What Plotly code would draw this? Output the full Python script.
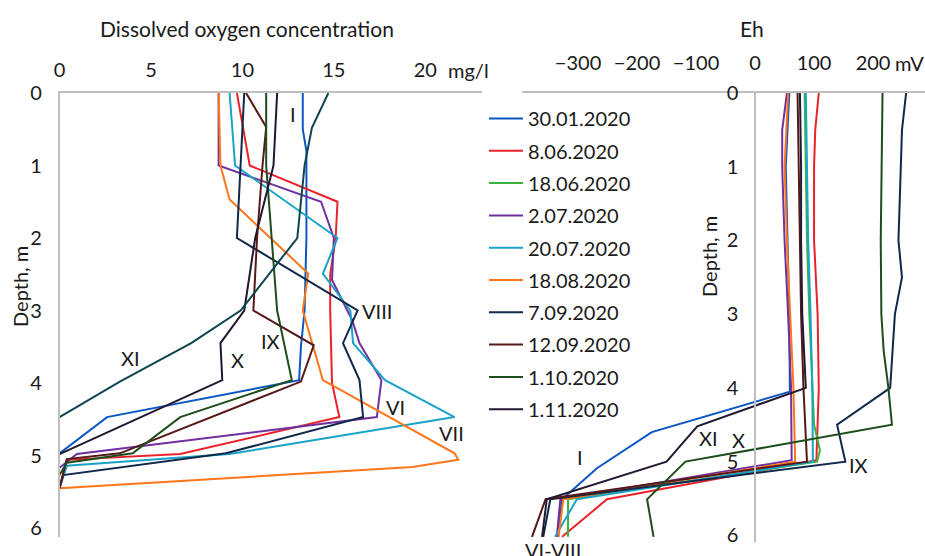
import plotly.graph_objects as go

W, H = 925, 556
FONT = "Lato"

# ---------------- Dissolved oxygen (mg/l) ----------------
do_depth_3001 = [0, 0.5, 0.8, 1.0, 2.0, 3.0, 3.5, 3.96, 4.47, 4.97]
do_val_3001 = [13.3, 13.3, 13.5, 13.5, 13.5, 13.4, 13.2, 13.1, 2.6, 0.0]

do_depth_0806 = [0, 1.0, 1.5, 2.0, 2.5, 3.0, 4.0, 4.47, 4.98, 5.06, 5.45]
do_val_0806 = [9.7, 10.4, 15.2, 15.1, 14.8, 14.8, 14.9, 15.3, 6.6, 0.4, 0.0]

do_depth_0207 = [0, 1.0, 1.5, 2.0, 2.58, 3.13, 3.45, 3.96, 4.47, 4.98, 5.17]
do_val_0207 = [8.7, 8.7, 14.3, 15.0, 14.9, 16.0, 16.4, 17.6, 17.35, 0.95, 0.0]

do_depth_2007 = [0, 1.0, 2.0, 2.49, 3.0, 3.45, 3.96, 4.47, 4.98, 5.14, 5.45]
do_val_2007 = [9.3, 9.6, 15.2, 14.4, 15.9, 16.05, 17.8, 21.6, 9.3, 0.4, 0.0]

do_depth_1808 = [0, 1.0, 1.47, 2.49, 3.0, 3.96, 4.97, 5.06, 5.16, 5.45]
do_val_1808 = [8.7, 8.8, 9.3, 13.6, 13.3, 14.4, 21.6, 21.8, 19.3, 0.0]

do_depth_0709 = [0, 1.0, 2.0, 3.0, 3.45, 3.96, 4.47, 4.97, 5.27, 5.45]
do_val_0709 = [10.1, 9.9, 9.7, 16.3, 15.5, 16.4, 16.6, 9.1, 0.2, 0.0]

do_depth_1209 = [0, 0.47, 1.0, 2.0, 3.0, 3.48, 3.98, 4.97, 5.05, 5.45]
do_val_1209 = [10.2, 11.3, 11.1, 10.8, 10.6, 13.9, 13.2, 3.3, 0.4, 0.0]

do_depth_0110 = [0, 1.0, 2.0, 3.0, 3.96, 4.47, 4.97, 5.1, 5.27]
do_val_0110 = [11.3, 11.3, 11.6, 11.9, 12.7, 6.6, 4.0, 0.4, 0.0]

do_depth_x = [0, 0.5, 1.0, 2.0, 3.0, 3.45, 3.96, 4.98]
do_val_x = [11.9, 11.8, 11.7, 10.7, 10.1, 8.8, 8.9, 0.0]

do_depth_xi = [0, 0.48, 1.0, 2.0, 3.0, 3.45, 3.98, 4.47]
do_val_xi = [14.7, 13.8, 13.4, 13.0, 9.9, 7.2, 3.3, 0.0]

# ---------------- Eh (mV) ----------------
eh_depth_3001 = [0, 1.0, 2.0, 3.0, 4.05, 4.6, 5.09, 5.51, 6.02]
eh_val_3001 = [58, 52, 55, 58, 59, -175, -268, -327, -334]

eh_depth_0806 = [0, 0.5, 1.0, 2.0, 3.0, 4.0, 4.98, 5.51, 6.02]
eh_val_0806 = [108, 102, 100, 100, 106, 108, 104, -251, -327]

eh_depth_1806 = [0, 1.0, 2.0, 3.0, 4.0, 4.5, 4.85, 5.0, 5.51, 6.02]
eh_val_1806 = [84, 86, 88, 92, 97, 100, 110, 105, -317, -317]

eh_depth_0207 = [0, 0.5, 1.0, 2.0, 3.0, 4.0, 4.98, 5.51, 6.02]
eh_val_0207 = [54, 46, 46, 50, 56, 61, 62, -330, -336]

eh_depth_2007 = [0, 1.0, 2.0, 3.0, 4.0, 5.0, 5.51, 6.02]
eh_val_2007 = [86, 88, 90, 94, 97, 98, -302, -339]

eh_depth_1808 = [0, 1.0, 2.0, 3.0, 4.0, 5.0, 5.51, 6.02]
eh_val_1808 = [56, 50, 54, 60, 65, 68, -325, -333]

eh_depth_0709 = [0, 0.5, 1.0, 2.0, 2.5, 3.0, 4.0, 4.5, 5.0, 5.51, 6.02]
eh_val_0709 = [256, 249, 247, 243, 249, 237, 229, 139, 153, -347, -359]

eh_depth_1209 = [0, 1.0, 2.0, 3.0, 4.0, 5.0, 5.51, 6.02]
eh_val_1209 = [72, 74, 76, 78, 82, 88, -355, -378]

eh_depth_0110 = [0, 1.0, 2.0, 3.0, 3.5, 4.0, 4.5, 5.0, 5.51, 6.02]
eh_val_0110 = [216, 214, 213, 214, 218, 226, 232, -118, -183, -172]

eh_depth_0111 = [0, 1.0, 2.0, 3.0, 4.0, 4.52, 5.0, 5.51, 6.02]
eh_val_0111 = [76, 78, 78, 80, 86, -98, -150, -353, -361]

series_names = ["30.01.2020", "8.06.2020", "18.06.2020", "2.07.2020", "20.07.2020",
                "18.08.2020", "7.09.2020", "12.09.2020", "1.10.2020", "1.11.2020"]
series_colors = ["#0a56c2", "#e8232b", "#3db33d", "#7030a0", "#1aa3c9",
                 "#ff7519", "#10294a", "#561818", "#1d4d1a", "#221830"]

eh_depths = [eh_depth_3001, eh_depth_0806, eh_depth_1806, eh_depth_0207, eh_depth_2007,
             eh_depth_1808, eh_depth_0709, eh_depth_1209, eh_depth_0110, eh_depth_0111]
eh_vals = [eh_val_3001, eh_val_0806, eh_val_1806, eh_val_0207, eh_val_2007,
           eh_val_1808, eh_val_0709, eh_val_1209, eh_val_0110, eh_val_0111]

# left-panel lines with the colours they show in the picture
do_lines = [
    (do_depth_3001, do_val_3001, "#0a56c2", "30.01.2020"),
    (do_depth_0806, do_val_0806, "#e8232b", "8.06.2020"),
    (do_depth_0207, do_val_0207, "#7030a0", "2.07.2020"),
    (do_depth_2007, do_val_2007, "#1aa3c9", "20.07.2020"),
    (do_depth_1808, do_val_1808, "#ff7519", "18.08.2020"),
    (do_depth_0709, do_val_0709, "#10294a", "7.09.2020"),
    (do_depth_1209, do_val_1209, "#561818", "12.09.2020"),
    (do_depth_0110, do_val_0110, "#1d4d1a", "1.10.2020"),
    (do_depth_x, do_val_x, "#221830", "1.11.2020"),
    (do_depth_xi, do_val_xi, "#0f4550", "1.11.2020"),
]

fig = go.Figure()

for d, v, c, g in do_lines:
    fig.add_trace(go.Scatter(x=v, y=d, mode="lines", line=dict(color=c, width=2),
                             xaxis="x", yaxis="y", showlegend=False, legendgroup=g,
                             hoverinfo="skip"))

for name, c, d, v in zip(series_names, series_colors, eh_depths, eh_vals):
    fig.add_trace(go.Scatter(x=v, y=d, mode="lines", name=name, line=dict(color=c, width=2),
                             xaxis="x2", yaxis="y2", legendgroup=name))


def px_x(p):
    return p / W


def px_y(p):
    return 1 - p / H


axis_col = "#bfbfbf"
FS = 20
tick_font = dict(family=FONT, size=FS, color="#1a1a1a")

fig.update_layout(
    width=W, height=H, margin=dict(l=0, r=0, t=0, b=0, autoexpand=False),
    paper_bgcolor="white", plot_bgcolor="white",
    font=dict(family=FONT, size=FS, color="#1a1a1a"),
    xaxis=dict(domain=[px_x(59.5), px_x(482)], range=[0, 23.1], side="top", anchor="y",
               tickvals=[0, 5, 10, 15, 20], ticktext=["0", "5", "10", "15", "20"],
               showline=True, linecolor=axis_col, linewidth=1.5, showgrid=False,
               zeroline=False, ticks="", tickfont=tick_font, ticklabelstandoff=6,
               automargin=False),
    yaxis=dict(domain=[px_y(537), px_y(93)], range=[6.124, 0], anchor="x",
               tickvals=[0, 1, 2, 3, 4, 5, 6], showline=True, linecolor=axis_col,
               linewidth=1.5, showgrid=False, zeroline=False, ticks="", tickfont=tick_font,
               ticklabelstandoff=12, automargin=False),
    xaxis2=dict(domain=[px_x(522), 1.0], range=[-395, 288], side="top", anchor="y2",
                tickvals=[-300, -200, -100, 0, 100, 200],
                ticktext=["\u2212300", "\u2212200", "\u2212100", "0", "100", "200"],
                showline=True, linecolor=axis_col, linewidth=1.5, showgrid=False,
                zeroline=False, ticks="", tickfont=tick_font, ticklabelstandoff=13,
                automargin=False),
    yaxis2=dict(domain=[px_y(542), px_y(93)], range=[6.09, 0], anchor="free",
                position=px_x(755), tickvals=[0, 1, 2, 3, 4, 5, 6], showline=True,
                linecolor=axis_col, linewidth=1.5, showgrid=False, zeroline=False,
                ticks="", tickfont=tick_font, ticklabelstandoff=12, automargin=False),
    legend=dict(x=px_x(484), y=px_y(99), xanchor="left", yanchor="top",
                font=dict(family=FONT, size=FS, color="#1a1a1a"),
                bgcolor="rgba(0,0,0,0)", tracegroupgap=3.3, traceorder="grouped",
                itemwidth=34),
    showlegend=True,
)

labels = [
    ("Dissolved oxygen concentration", 247, 28, 0, 21),
    ("Eh", 752, 28, 0, 21),
    ("mg/l", 468, 70, 0, FS),
    ("mV", 909, 63, 0, FS),
    ("Depth, m", 20, 287, -90, FS),
    ("Depth, m", 709, 257, -90, FS),
    ("I", 293, 114, 0, FS),
    ("VIII", 377, 311, 0, FS),
    ("VI", 395, 407, 0, FS),
    ("VII", 451, 433, 0, FS),
    ("XI", 130, 358, 0, FS),
    ("X", 237, 360, 0, FS),
    ("IX", 270, 341, 0, FS),
    ("I", 580, 457, 0, FS),
    ("XI", 708, 438, 0, FS),
    ("X", 738, 440, 0, FS),
    ("IX", 858, 465, 0, FS),
    ("VI-VIII", 553, 550, 0, FS),
]
for text, x, y, ang, fs in labels:
    fig.add_annotation(text=text, x=px_x(x), y=px_y(y), xref="paper", yref="paper",
                       showarrow=False, textangle=ang, xanchor="center", yanchor="middle",
                       font=dict(family=FONT, size=fs, color="#1a1a1a"))

fig.write_html("out.html")
